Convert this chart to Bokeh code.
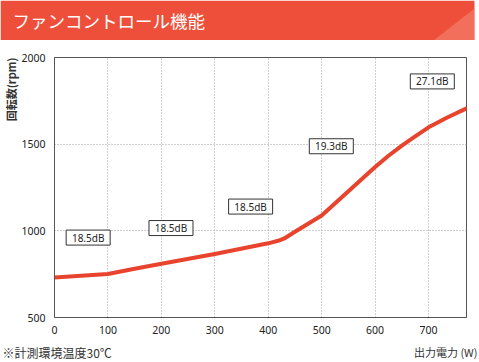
from bokeh.plotting import figure
from bokeh.layouts import column, row
from bokeh.models import Range1d, FixedTicker, Title
from bokeh.core.properties import value
from bokeh.embed import file_html
from bokeh.resources import INLINE

# ---- data ----
title_text = "ファンコントロール機能"
power_w = [0, 100, 150, 200, 300, 400, 420, 430, 450, 500, 600, 625, 650, 675, 700, 735, 770]
fan_rpm = [731, 751, 781, 810, 866, 928, 944, 956, 995, 1088, 1368, 1433, 1492, 1545, 1597, 1654, 1705]
noise_x = [63, 218, 367, 518, 707]
noise_y = [961, 1016, 1140, 1488, 1862]
noise_labels = ["18.5dB", "18.5dB", "18.5dB", "19.3dB", "27.1dB"]
x_ticks = [0, 100, 200, 300, 400, 500, 600, 700]
y_ticks = [500, 1000, 1500, 2000]
y_label = "回転数(rpm)"
x_label = "出力電力 (W)"
note_text = "※計測環境温度30℃"

CJK = "Noto Sans CJK JP"
LAT = "Noto Sans"
RED = "#EE4F3A"
WIDTH = 479
BANNER_H, CHART_H, FOOT_H = 40, 300, 22


def deco_figure(h):
    f = figure(width=WIDTH, height=h, x_range=Range1d(0, WIDTH), y_range=Range1d(h, 0),
               x_axis_type=None, y_axis_type=None, output_backend="svg",
               toolbar_location=None, min_border=0)
    f.grid.visible = False
    f.outline_line_color = None
    f.background_fill_color = "white"
    f.border_fill_color = "white"
    return f


# ---- banner ----
banner = deco_figure(BANNER_H)
banner.quad(left=[0], right=[474], top=[0], bottom=[40], fill_color=RED, line_color=None)
banner.patch([433, 474, 474], [40, 8, 40], fill_color="#F48A76", fill_alpha=0.55, line_color=None)
banner.text(x=[12], y=[20], text=[title_text], text_font=value(CJK), text_font_size="17.5px",
            text_color="white", text_baseline="middle", text_align="left")

# ---- chart ----
p = figure(width=WIDTH, height=CHART_H, x_range=Range1d(0, 771), y_range=Range1d(500, 2000),
           output_backend="svg", toolbar_location=None,
           min_border_left=54, min_border_right=13, min_border_top=17, min_border_bottom=23)
p.background_fill_color = "white"
p.border_fill_color = "white"
p.outline_line_color = "#555555"
p.outline_line_width = 1

p.xaxis.ticker = FixedTicker(ticks=x_ticks)
p.yaxis.ticker = FixedTicker(ticks=y_ticks)
for ax in (p.xaxis, p.yaxis):
    ax.axis_line_color = "#555555"
    ax.major_tick_out = 0
    ax.major_tick_in = 0
    ax.minor_tick_out = 0
    ax.minor_tick_in = 0
    ax.major_label_text_font = LAT
    ax.major_label_text_font_size = "10.5px"
    ax.major_label_text_color = "#222222"
p.xaxis.major_label_standoff = 8
p.yaxis.major_label_standoff = 9

p.add_layout(Title(text=y_label, align="right", text_font=CJK, text_font_size="11px",
                   text_font_style="bold", text_color="#333333", standoff=0), "left")

p.xgrid.ticker = FixedTicker(ticks=x_ticks)
p.ygrid.ticker = FixedTicker(ticks=y_ticks)
for g in (p.xgrid, p.ygrid):
    g.grid_line_color = "#a0a0a0"
    g.grid_line_dash = "1 2"
    g.grid_line_width = 1

p.line(power_w, fan_rpm, line_color="#E8442D", line_width=4, line_join="round", line_cap="round")

p.rect(noise_x, noise_y, width=44, height=15, width_units="screen", height_units="screen",
       fill_color="white", line_color="#333333", line_width=1)
p.text(noise_x, noise_y, text=noise_labels, text_font=value(LAT), text_font_size="10px",
       text_color="#222222", text_align="center", text_baseline="middle")

# ---- footer ----
foot = deco_figure(FOOT_H)
foot.text(x=[2], y=[12], text=[note_text], text_font=value(CJK), text_font_size="12px",
          text_color="#333333", text_align="left", text_baseline="middle")
foot.text(x=[477], y=[11], text=[x_label], text_font=value(CJK), text_font_size="11px",
          text_color="#333333", text_align="right", text_baseline="middle")

layout = column(row(banner), p, row(foot), spacing=0)
open("out.html", "w").write(file_html(layout, INLINE))
